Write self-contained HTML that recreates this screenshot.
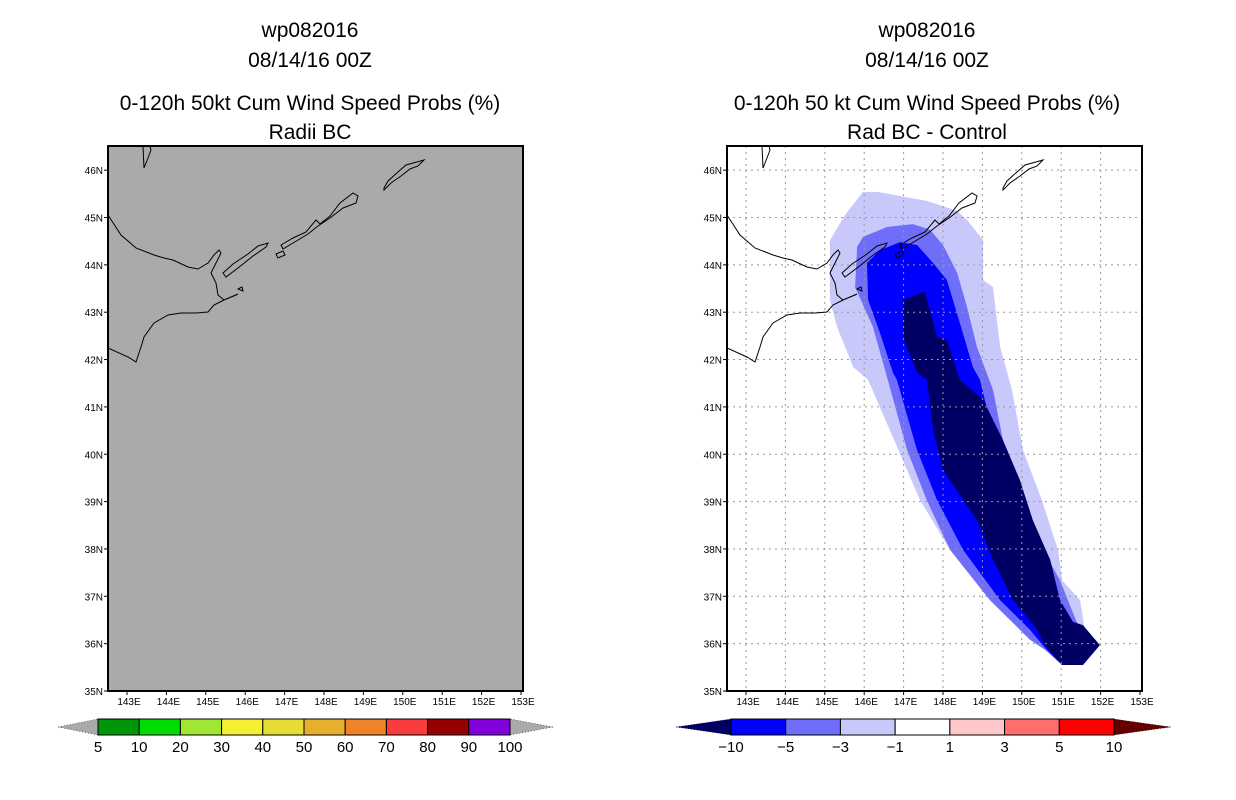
<!DOCTYPE html>
<html><head><meta charset="utf-8"><style>
body{margin:0;background:#fff;width:1236px;height:800px;overflow:hidden}
svg{display:block}
text{font-family:"Liberation Sans",sans-serif;fill:#000}
</style></head><body>
<svg id="s" width="1236" height="800">
<g font-size="21" text-anchor="middle">
<text x="310" y="37">wp082016</text><text x="310" y="67">08/14/16 00Z</text>
<text x="310" y="110">0-120h 50kt Cum Wind Speed Probs (%)</text><text x="310" y="139">Radii BC</text></g>
<g font-size="21" text-anchor="middle">
<text x="927" y="37">wp082016</text><text x="927" y="67">08/14/16 00Z</text>
<text x="927" y="110">0-120h 50 kt Cum Wind Speed Probs (%)</text><text x="927" y="139">Rad BC - Control</text></g>
</svg>
<script>
const lonTicks=[143,144,145,146,147,148,149,150,151,152,153];
const latTicks=[35,36,37,38,39,40,41,42,43,44,45,46];
const lev1Lon=[145.97,146.33,147.59,148.36,148.61,149.02,149.02,149.27,149.45,149.75,150.03,150.51,150.92,151.02,151.48,151.60,151.98,151.55,151.02,150.59,149.70,149.19,148.18,147.42,146.10,145.72,145.31,145.13,145.13,145.51];
const lev1Lat=[45.54,45.54,45.35,45.14,44.95,44.52,43.68,43.53,42.27,41.36,40.09,39.03,37.98,37.34,36.92,36.29,35.97,35.55,35.55,35.97,36.71,36.92,37.98,39.03,41.57,41.84,42.69,43.26,44.52,45.05];
const lev2Lon=[145.82,145.97,146.58,147.24,147.67,148.00,148.36,148.61,148.86,149.27,149.57,150.03,150.54,150.97,151.27,151.43,151.98,151.55,151.02,150.59,150.21,149.70,149.19,148.18,147.59,147.09,146.60,146.22,145.77];
const lev2Lat=[44.38,44.59,44.80,44.86,44.74,44.42,43.83,43.11,42.27,41.36,40.09,39.03,37.98,37.34,36.71,36.39,35.97,35.55,35.55,35.87,36.08,36.50,36.92,37.98,39.03,40.09,41.57,42.69,43.53];
const lev3Lon=[146.07,146.40,146.91,147.34,147.75,148.10,148.43,148.76,148.94,149.37,149.78,150.46,150.97,151.17,151.55,151.98,151.55,151.02,150.59,150.21,149.45,148.51,147.85,147.34,146.83,146.73,146.40,146.10];
const lev3Lat=[44.04,44.31,44.48,44.42,44.04,43.68,42.77,41.84,41.57,40.09,39.03,37.98,36.92,36.50,36.39,35.97,35.55,35.55,35.91,36.29,36.92,37.98,39.03,40.09,41.57,41.72,42.56,43.26];
const lev4Lon=[146.98,147.54,147.85,148.10,148.43,149.02,149.52,149.95,150.28,150.72,150.97,151.30,151.55,151.98,151.55,151.02,150.59,150.39,149.78,149.27,148.86,148.00,147.75,147.59,147.34,147.01];
const lev4Lat=[43.26,43.43,42.48,42.41,41.57,41.15,40.30,39.46,38.61,37.77,36.92,36.46,36.39,35.97,35.55,35.55,35.97,36.29,36.92,37.77,38.61,39.67,40.51,41.57,41.72,42.41];
const levColors=['#c8c8fa','#6e6efa','#0000ff','#000064'];
const leftBarLabels=['5','10','20','30','40','50','60','70','80','90','100'];
const leftBarColors=['#00960a','#00dc00','#a0e632','#f5f032','#e6dc32','#e6af2d','#f08228','#fa3c3c','#960000','#8200dc'];
const rightBarLabels=['\u221210','\u22125','\u22123','\u22121','1','3','5','10'];
const rightBarColors=['#0000ff','#6e6efa','#c8c8fa','#ffffff','#ffc8c8','#ff6e6e','#ff0000'];
const NS='http://www.w3.org/2000/svg',S=document.getElementById('s');
function el(t,a,p){const e=document.createElementNS(NS,t);for(const k in a)e.setAttribute(k,a[k]);(p||S).appendChild(e);return e;}
const W=415,H=545,TOP=146;
function xs(ox){return lon=>ox+19+(lon-143)*39.4;}
function ys(lat){return 691-(lat-35)*47.35;}
const coast=[
"M0,69 L13,89 L28,102 L46,109 L56,112 L65,114 L80,121 L90,123 L100,117 L106,109 L111,104 L113,107 L106,121 L103,127 L108,137 L110,149 L116,154 L128,149 L130,148 L116,154 L106,159 L100,166 L88,167 L73,167 L60,169 L46,177 L36,191 L33,201 L28,216 L20,211 L0,202",
"M115,127 L125,118 L140,108 L150,100 L160,97 L158,101 L145,110 L130,122 L118,131 Z",
"M173,99 L185,92 L198,86 L208,74 L212,78 L222,70 L232,57 L245,47 L250,50 L248,57 L235,62 L222,72 L210,80 L200,88 L185,97 L175,103 Z",
"M276,44 L283,37 L293,30 L302,23 L310,20 L316,14 L298,19 L290,26 L280,35 L276,42 Z",
"M35,0 L36,22 L40,12 L43,4 L42,0",
"M168,108 L175,105 L177,109 L170,112 Z",
"M130,143 L134,141 L135,145 Z"];
function map(ox,shaded){
  const g=el('g',{});
  
  
  const cid='c'+ox;
  const cp=el('clipPath',{id:cid},g);el('rect',{x:ox,y:TOP,width:W,height:H},cp);
  el('rect',{x:ox,y:TOP,width:W,height:H,fill:shaded?'#fff':'#aaaaaa'},g);
  const X=xs(ox);
  if(shaded){
    const cg=el('g',{'clip-path':`url(#${cid})`},g);
    const L=[[lev1Lon,lev1Lat],[lev2Lon,lev2Lat],[lev3Lon,lev3Lat],[lev4Lon,lev4Lat]];
    L.forEach((d,i)=>{const p=el('polygon',{points:d[0].map((v,j)=>X(v).toFixed(1)+','+ys(d[1][j]).toFixed(1)).join(' '),fill:levColors[i]},cg);
      
      });
    lonTicks.slice(0,-1).forEach(t=>el('line',{x1:X(t),x2:X(t),y1:TOP,y2:TOP+H,stroke:'#999','stroke-dasharray':'2,4'},cg));
    latTicks.slice(1).forEach(t=>el('line',{x1:ox,x2:ox+W,y1:ys(t),y2:ys(t),stroke:'#999','stroke-dasharray':'2,4'},cg));
  }
  const outer=el('g',{'clip-path':`url(#${cid})`},g);
  const cg2=el('g',{transform:`translate(${ox},${TOP})`,fill:'none',stroke:'#000','stroke-width':1},outer);
  coast.forEach(d=>el('path',{d},cg2));
  el('rect',{x:ox,y:TOP,width:W,height:H,fill:'none',stroke:'#000','stroke-width':2},g);
  lonTicks.forEach(t=>{el('line',{x1:X(t),x2:X(t),y1:691,y2:695,stroke:'#000'},g);const tx=el('text',{x:X(t)+2,y:705,'font-size':10,'text-anchor':'middle'},g);tx.textContent=t+'E';});
  latTicks.forEach(t=>{el('line',{x1:ox-4,x2:ox,y1:ys(t),y2:ys(t),stroke:'#000'},g);const tx=el('text',{x:ox-5,y:ys(t)+4,'font-size':10,'text-anchor':'end'},g);tx.textContent=t+'N';});
}
function bar(x0,x1,tl,tr,cols,labs,lc,rc,name){
  const g=el('g',{});
  
  
  const w=(x1-x0)/cols.length;
  el('polygon',{points:`${tl},727 ${x0},719 ${x0},735`,fill:lc,stroke:'#000','stroke-dasharray':'1,2','stroke-width':0.5},g);
  el('polygon',{points:`${tr},727 ${x1},719 ${x1},735`,fill:rc,stroke:'#000','stroke-dasharray':'1,2','stroke-width':0.5},g);
  cols.forEach((c,i)=>el('rect',{x:x0+i*w,y:719,width:w,height:16,fill:c,stroke:'#000'},g));
  labs.forEach((l,i)=>{const t=el('text',{x:x0+i*w,y:752,'font-size':15,'text-anchor':'middle'},g);t.textContent=l;});
}
map(108,false);map(727,true);
bar(98,510,58,553,leftBarColors,leftBarLabels,'#aaaaaa','#aaaaaa','probability-colorbar');
bar(731,1114,676,1171,rightBarColors,rightBarLabels,'#000064','#640000','difference-colorbar');
</script>
</body></html>
